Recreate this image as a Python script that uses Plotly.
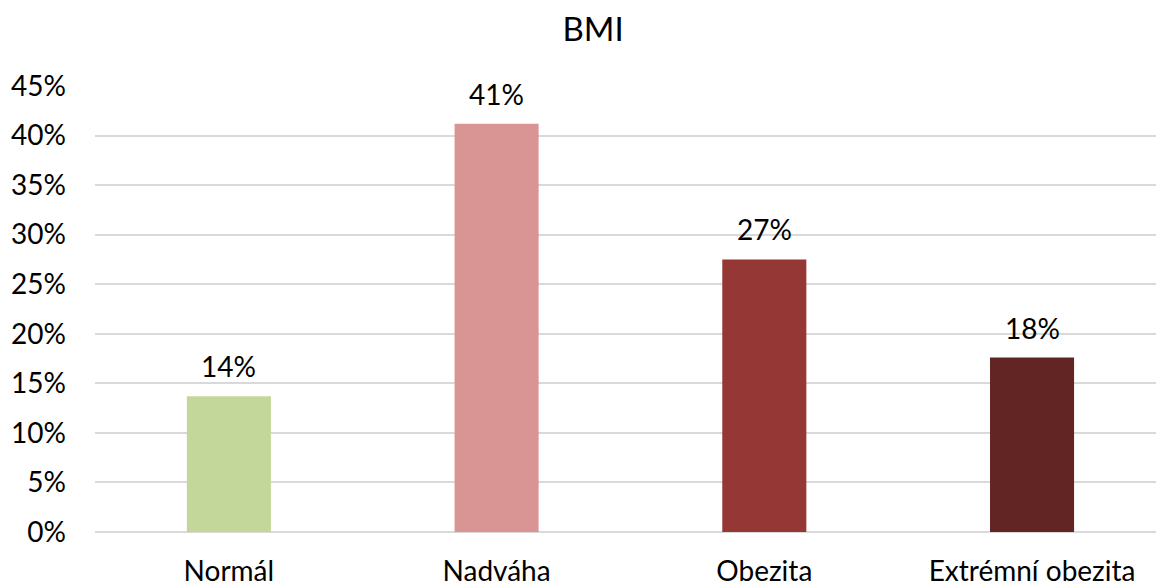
import plotly.graph_objects as go

categories = ["Normál", "Nadváha", "Obezita", "Extrémní obezita"]
values = [0.137, 0.412, 0.275, 0.176]
labels = ["14%", "41%", "27%", "18%"]
colors = ["#C4D79B", "#D99594", "#953735", "#632523"]
y_ticks = [0, 0.05, 0.10, 0.15, 0.20, 0.25, 0.30, 0.35, 0.40, 0.45]

FONT = "Lato, 'Open Sans', sans-serif"

fig = go.Figure()
fig.add_trace(go.Bar(
    x=categories, y=values, marker=dict(color=colors, line=dict(width=0)),
    width=0.314, hoverinfo="skip",
))

for c, v, t in zip(categories, values, labels):
    fig.add_annotation(x=c, y=v, text=t, showarrow=False, yanchor="bottom",
                       yshift=11, font=dict(family=FONT, size=28, color="#000000"))

fig.update_layout(
    width=1156, height=587,
    margin=dict(l=95, r=0, t=86, b=55, autoexpand=False),
    paper_bgcolor="white", plot_bgcolor="white",
    showlegend=False,
    title=dict(text="BMI", x=0.513, xanchor="center", y=1 - 41/587, yanchor="bottom",
               font=dict(family=FONT, size=33, color="#000000")),
    font=dict(family=FONT, color="#000000"),
)
fig.update_xaxes(
    range=[-0.5, 3.463], showgrid=False, showline=False, zeroline=False,
    tickfont=dict(family=FONT, size=28, color="#000000"),
    ticks="outside", ticklen=0, ticklabelstandoff=14, automargin=False,
)
fig.update_yaxes(
    range=[0, 0.45], tickvals=y_ticks, tickformat=".0%",
    showgrid=True, gridcolor="#D9D9D9", gridwidth=1.5,
    zeroline=True, zerolinecolor="#D9D9D9", zerolinewidth=1.5,
    showline=False, automargin=False,
    tickfont=dict(family=FONT, size=28, color="#000000"),
    ticklabelstandoff=28,
)

fig.write_html(
    "out.html",
    post_script="document.body.style.margin='0';document.body.style.overflow='hidden';",
)
